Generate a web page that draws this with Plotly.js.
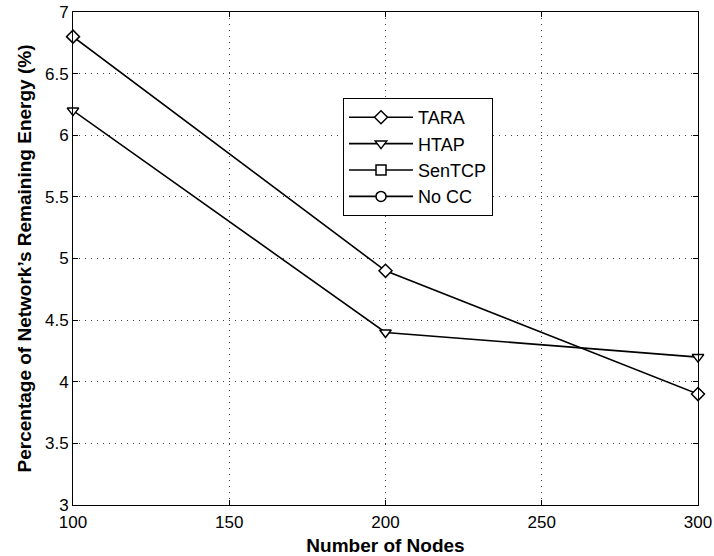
<!DOCTYPE html>
<html>
<head>
<meta charset="utf-8">
<script src="https://cdn.plot.ly/plotly-3.0.1.min.js"></script>
<style>html,body{margin:0;padding:0;background:#fff}</style>
</head>
<body>
<div id="chart" style="width:714px;height:556px"></div>
<script>
const nodes = [100, 200, 300];
const tara = [6.8, 4.9, 3.9];
const htap = [6.2, 4.4, 4.2];
const sentcp = [null, null, null];
const nocc = [null, null, null];
const seriesNames = ['TARA', 'HTAP', 'SenTCP', 'No CC'];
const symbols = ['diamond', 'triangle-down', 'square', 'circle'];
const values = [tara, htap, sentcp, nocc];

const traces = values.map((v, i) => ({
  x: nodes, y: v, name: seriesNames[i], type: 'scatter', mode: 'lines+markers',
  legendgroup: 'g' + i,
  line: {color: '#000', width: 1.6},
  marker: {symbol: symbols[i], size: 10, color: '#fff', line: {color: '#000', width: 1.5}},
  cliponaxis: false
}));

const FONT = 'Liberation Sans, Arial, Helvetica, sans-serif';
const axisCommon = {
  showline: true, linecolor: '#000', linewidth: 1, mirror: 'ticks',
  ticks: 'inside', ticklen: 5, tickcolor: '#000',
  showgrid: true, gridcolor: '#444', griddash: '1px,5px', gridwidth: 1,
  zeroline: false, automargin: false,
  tickfont: {family: FONT, size: 17, color: '#000'}
};

const layout = {
  width: 714, height: 556,
  margin: {l: 73, r: 16, t: 12, b: 51},
  paper_bgcolor: '#fff', plot_bgcolor: '#fff',
  font: {family: FONT, color: '#000'},
  xaxis: Object.assign({}, axisCommon, {
    range: [100, 300], tickvals: [100, 150, 200, 250, 300],
    ticklabelstandoff: 2,
    title: {text: 'Number of Nodes', standoff: 8,
            font: {family: FONT, size: 19, weight: 'bold', color: '#000'}}
  }),
  yaxis: Object.assign({}, axisCommon, {
    range: [3, 7], dtick: 0.5,
    title: {text: "Percentage of Network’s Remaining Energy (%)", standoff: 8,
            font: {family: FONT, size: 19, weight: 'bold', color: '#000'}}
  }),
  showlegend: true,
  legend: {
    x: (343 - 73) / 625, xanchor: 'left',
    y: 1 - (98 - 12) / (505 - 12), yanchor: 'top',
    bgcolor: '#fff', bordercolor: '#000', borderwidth: 1,
    font: {family: FONT, size: 18, color: '#000'},
    tracegroupgap: 0, itemwidth: 64
  }
};

Plotly.newPlot('chart', traces, layout, {displayModeBar: false, staticPlot: true});
</script>
</body>
</html>
